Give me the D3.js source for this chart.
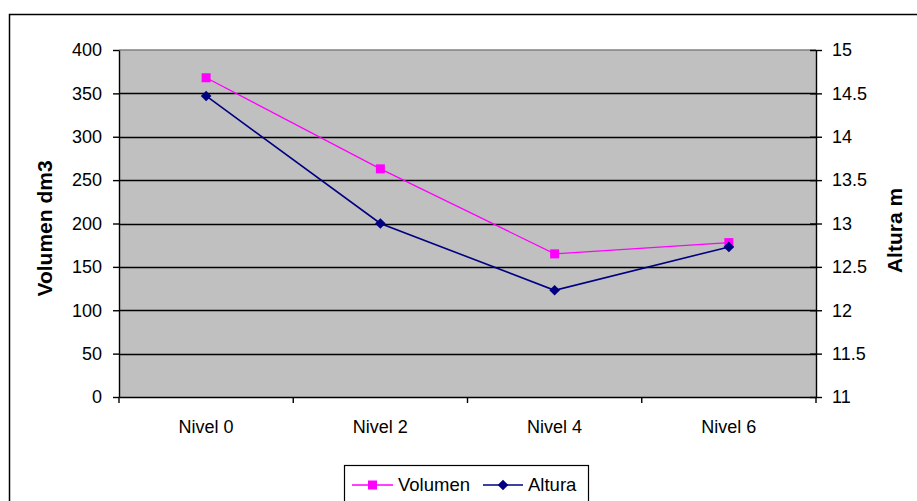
<!DOCTYPE html>
<html>
<head>
<meta charset="utf-8">
<script src="https://cdn.jsdelivr.net/npm/d3@7/dist/d3.min.js"></script>
<style>
  html, body { margin: 0; padding: 0; background: #fff; }
  svg { display: block; font-family: "Liberation Sans", Arial, sans-serif; }
</style>
</head>
<body>
<svg id="chart" width="917" height="501"></svg>
<script>
// Chart data
const categories = ["Nivel 0", "Nivel 2", "Nivel 4", "Nivel 6"];
const volumen = [368, 263, 165, 178];     // dm3
const altura = [14.47, 13.0, 12.23, 12.73]; // m
const leftTicks = [0, 50, 100, 150, 200, 250, 300, 350, 400];
const rightTicks = [11, 11.5, 12, 12.5, 13, 13.5, 14, 14.5, 15];
const seriesNames = ["Volumen", "Altura"];

const svg = d3.select("#chart");
const plot = { left: 119, top: 50, right: 816, bottom: 397 };

// Outer chart frame (runs past the page edges)
svg.append("rect")
  .attr("x", 9.5).attr("y", 14.5)
  .attr("width", 940).attr("height", 520)
  .attr("fill", "#fff").attr("stroke", "#000").attr("stroke-width", 1.5);

const x = d3.scaleBand().domain(categories).range([plot.left, plot.right]);
const yL = d3.scaleLinear().domain([0, 400]).range([plot.bottom, plot.top]);
const yR = d3.scaleLinear().domain([11, 15]).range([plot.bottom, plot.top]);

// Plot area background
svg.append("rect")
  .attr("x", plot.left).attr("y", plot.top)
  .attr("width", plot.right - plot.left).attr("height", plot.bottom - plot.top)
  .attr("fill", "#c0c0c0");

// Horizontal gridlines
svg.append("g").selectAll("line")
  .data(leftTicks.filter(t => t > 0 && t < 400))
  .join("line")
  .attr("x1", plot.left).attr("x2", plot.right)
  .attr("y1", d => Math.round(yL(d)) + 0.5).attr("y2", d => Math.round(yL(d)) + 0.5)
  .attr("stroke", "#000").attr("stroke-width", 1.4);

// Top edge of plot area
svg.append("line")
  .attr("x1", plot.left).attr("x2", plot.right)
  .attr("y1", plot.top).attr("y2", plot.top)
  .attr("stroke", "#808080").attr("stroke-width", 1.5);

function styleAxis(g) {
  g.selectAll("path.domain").attr("stroke", "#000").attr("stroke-width", 1.4);
  g.selectAll(".tick line").attr("stroke", "#000").attr("stroke-width", 1.4);
  g.selectAll("text").attr("fill", "#000").style("font-size", "18px")
    .style("font-family", "'Liberation Sans', Arial, sans-serif");
}

// Left axis
const leftAxis = svg.append("g")
  .attr("transform", `translate(${plot.left},0)`)
  .call(d3.axisLeft(yL).tickValues(leftTicks).tickSize(6).tickSizeOuter(0).tickPadding(11)
    .tickFormat(d3.format("d")));
styleAxis(leftAxis);

// Right axis (ticks cross the axis line)
const rightAxis = svg.append("g")
  .attr("transform", `translate(${plot.right},0)`)
  .call(d3.axisRight(yR).tickValues(rightTicks).tickSize(6).tickSizeOuter(0).tickPadding(10)
    .tickFormat(d => String(d)));
rightAxis.selectAll(".tick line").attr("x1", -6);
styleAxis(rightAxis);

// Bottom axis with ticks at category boundaries
const bottomAxis = svg.append("g")
  .attr("transform", `translate(0,${plot.bottom})`)
  .call(d3.axisBottom(x).tickSize(0).tickSizeOuter(0).tickPadding(23));
styleAxis(bottomAxis);
const bounds = categories.map(c => x(c)).concat([plot.right]);
bottomAxis.append("g").selectAll("line")
  .data(bounds).join("line")
  .attr("x1", d => d).attr("x2", d => d)
  .attr("y1", 0).attr("y2", 6)
  .attr("stroke", "#000").attr("stroke-width", 1.4);

// Axis titles
svg.append("text")
  .attr("transform", `translate(52,${(plot.top + plot.bottom) / 2 + 5}) rotate(-90)`)
  .attr("text-anchor", "middle")
  .style("font-size", "21px").style("font-weight", "bold")
  .text("Volumen dm3");
svg.append("text")
  .attr("transform", `translate(902,${(plot.top + plot.bottom) / 2 + 7}) rotate(-90)`)
  .attr("text-anchor", "middle")
  .style("font-size", "21px").style("font-weight", "bold")
  .text("Altura m");

const cx = c => x(c) + x.bandwidth() / 2;

// Volumen series
const pink = "#ff00ff", navy = "#000080";
svg.append("path")
  .datum(categories.map((c, i) => [cx(c), yL(volumen[i])]))
  .attr("d", d3.line())
  .attr("fill", "none").attr("stroke", pink).attr("stroke-width", 1.3);
svg.append("g").selectAll("rect")
  .data(categories.map((c, i) => [cx(c), yL(volumen[i])]))
  .join("rect")
  .attr("x", d => d[0] - 4.5).attr("y", d => d[1] - 4.5)
  .attr("width", 9).attr("height", 9).attr("fill", pink);

// Altura series
const diamond = d3.symbol().type(d3.symbolDiamond2).size(72);
svg.append("path")
  .datum(categories.map((c, i) => [cx(c), yR(altura[i])]))
  .attr("d", d3.line())
  .attr("fill", "none").attr("stroke", navy).attr("stroke-width", 1.6);
svg.append("g").selectAll("path")
  .data(categories.map((c, i) => [cx(c), yR(altura[i])]))
  .join("path")
  .attr("transform", d => `translate(${d[0]},${d[1]})`)
  .attr("d", diamond).attr("fill", navy);

// Legend
const legend = svg.append("g");
legend.append("rect")
  .attr("x", 344.5).attr("y", 465.5).attr("width", 244).attr("height", 50)
  .attr("fill", "#fff").attr("stroke", "#000").attr("stroke-width", 1.2);
const legendItems = [
  { name: seriesNames[0], color: pink, x1: 352, x2: 393, tx: 398, marker: "square" },
  { name: seriesNames[1], color: navy, x1: 483, x2: 523, tx: 528, marker: "diamond" }
];
const ly = 485;
legendItems.forEach(it => {
  legend.append("line").attr("x1", it.x1).attr("x2", it.x2).attr("y1", ly).attr("y2", ly)
    .attr("stroke", it.color).attr("stroke-width", it.marker === "square" ? 1.3 : 1.6);
  const mx = (it.x1 + it.x2) / 2;
  if (it.marker === "square") {
    legend.append("rect").attr("x", mx - 4.5).attr("y", ly - 4.5).attr("width", 9).attr("height", 9)
      .attr("fill", it.color);
  } else {
    legend.append("path").attr("transform", `translate(${mx},${ly})`).attr("d", diamond)
      .attr("fill", it.color);
  }
  legend.append("text").attr("x", it.tx).attr("y", ly).attr("dy", "0.35em")
    .style("font-size", "18.5px").text(it.name);
});
</script>
</body>
</html>
